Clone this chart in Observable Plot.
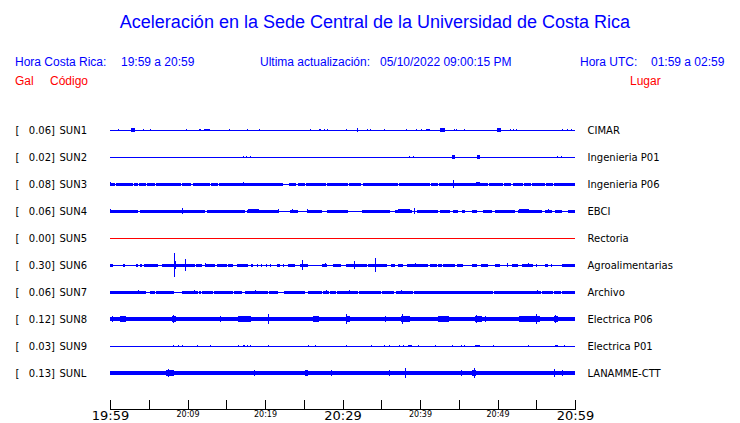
<!DOCTYPE html>
<html>
<head>
<meta charset="utf-8">
<script src="https://cdn.jsdelivr.net/npm/d3@7"></script>
<script src="https://cdn.jsdelivr.net/npm/@observablehq/plot@0.6"></script>
<style>
  body { margin: 0; background: #fff; }
  #page { position: relative; width: 740px; height: 423px; overflow: hidden; font-family: "Liberation Sans", Arial, sans-serif; }
  .h { position: absolute; white-space: pre; font-size: 12px; line-height: 12px; color: #0000ff; }
  .red { color: #ff0000; }
  #title { position: absolute; left: 5px; width: 740px; top: 13px; text-align: center; font-size: 18px; line-height: 18px; color: #0000ff; }
  #chart { position: absolute; left: 0; top: 100px; }
</style>
</head>
<body>
<div id="page">
  <div id="title">Aceleración en la Sede Central de la Universidad de Costa Rica</div>
  <div class="h" style="left:15px; top:56px">Hora Costa Rica:</div>
  <div class="h" style="left:121px; top:56px">19:59 a 20:59</div>
  <div class="h" style="left:260px; top:56px">Ultima actualización:</div>
  <div class="h" style="left:380px; top:56px">05/10/2022 09:00:15 PM</div>
  <div class="h" style="left:580px; top:56px">Hora UTC:</div>
  <div class="h" style="left:651px; top:56px">01:59 a 02:59</div>
  <div class="h red" style="left:15px; top:75px">Gal</div>
  <div class="h red" style="left:50px; top:75px">Código</div>
  <div class="h red" style="left:630px; top:75px">Lugar</div>
  <div id="chart"></div>
</div>
<script>
// ---------------- data ----------------
const codes  = ["SUN1","SUN2","SUN3","SUN4","SUN5","SUN6","SUN7","SUN8","SUN9","SUNL"];
const places = ["CIMAR","Ingenieria P01","Ingenieria P06","EBCI","Rectoria","Agroalimentarias","Archivo","Electrica P06","Electrica P01","LANAMME-CTT"];
const peakGal  = [0.06, 0.02, 0.08, 0.06, 0.00, 0.30, 0.06, 0.12, 0.03, 0.13];
// continuous background noise level (Gal) per station
const noiseGal = [0, 0, 0.0375, 0.0375, 0, 0.0375, 0.0375, 0.05, 0, 0.05];

// minutes after 19:59 where the background noise band is present
const sun3Noise = [[0,0.6],[0.75,2.95],[3.1,3.6],[3.75,4.65],[4.8,5.75],[5.9,9.2],[9.35,10.5],[10.65,12.85],[13.0,13.95],[14.1,22.35],[23.1,24.05],[24.2,25.1],[25.25,27.9],[28.05,30.7],[30.85,32.45],[32.6,37.15],[37.3,41.25],[41.4,42.3],[42.45,48.75],[48.9,50.7],[50.85,51.8],[51.95,53.3],[53.45,54.35],[54.5,56.1],[56.25,57.15],[57.3,60]];
const sun4Noise = [[0,3.66],[3.87,9.25],[9.33,12.26],[12.47,15.69],[15.78,17.42],[17.63,21.7],[23.23,24.3],[25.38,27.31],[27.96,30.77],[32.5,36.13],[36.77,38.92],[39.57,42.37],[42.58,43.87],[44.3,44.95],[45.38,45.8],[46.67,47.31],[48.17,49.25],[49.68,52.26],[52.69,55.7],[56.13,56.99],[57.42,58.28],[59.14,60]];
const sun6Noise = [[0,0.43],[1.72,1.9],[3.31,3.66],[3.87,4.17],[4.43,6.24],[6.75,11.0],[11.1,11.83],[12.39,13.55],[13.76,15.05],[15.27,15.91],[16.34,17.85],[18.15,18.49],[19.0,19.1],[19.5,19.6],[20.15,20.25],[20.7,20.8],[21.59,21.94],[22.3,22.4],[22.92,23.87],[24.52,25.59],[27.4,27.96],[28.73,29.81],[30.45,33.12],[33.33,35.7],[36.26,36.77],[37.2,37.85],[38.28,41.07],[41.29,42.15],[42.37,42.8],[43.01,44.52],[44.73,45.59],[46.67,47.31],[47.87,48.73],[49.68,50.32],[51.83,52.69],[53.12,54.62],[55.0,55.1],[56.13,56.56],[56.95,57.05],[58.28,60]];
const sun7Noise = [[0,4.7],[5.2,5.75],[5.9,8.3],[9.25,11.35],[11.5,11.8],[11.9,13.3],[13.4,15.85],[16.0,17.0],[17.45,20.4],[20.5,21.7],[22.4,25.1],[25.6,27.3],[27.45,28.2],[28.35,29.2],[29.3,32.0],[32.1,35.0],[35.1,36.7],[36.85,39.1],[39.2,47.7],[47.8,49.4],[49.55,52.2],[52.3,54.15],[54.25,55.65],[55.75,57.15],[57.3,58.25],[58.35,60]];
const sun8Noise = [[0,60]];
const sunLNoise = [[0,60]];

// bursts: [start minute, end minute, peak Gal]  (start == end for a single spike)
const sun1Events = [[1.07,1.07,0.02],[2.8,3.2,0.06],[4.26,4.26,0.035],[5.2,5.2,0.025],[9.85,9.85,0.025],[11.5,11.5,0.035],[11.7,11.7,0.03],[12.2,12.9,0.035],[15.4,15.4,0.025],[17.7,17.7,0.035],[19.3,19.3,0.025],[25.9,25.9,0.035],[27.0,27.0,0.035],[27.2,27.2,0.035],[27.7,27.7,0.035],[28.1,28.1,0.025],[30.5,30.5,0.035],[31.9,31.9,0.04],[33.2,33.2,0.035],[33.6,33.6,0.035],[35.4,35.4,0.02],[38.3,38.3,0.02],[39.6,39.6,0.035],[40.2,40.2,0.035],[40.8,41.2,0.035],[42.7,43.1,0.06],[44.4,44.4,0.035],[44.7,44.7,0.035],[45.8,45.8,0.025],[50.0,50.4,0.06],[51.7,51.7,0.035],[52.0,52.0,0.035],[52.4,52.4,0.025],[58.4,58.4,0.035],[59.05,59.05,0.025],[59.6,59.6,0.025]];
const sun2Events = [[17.2,17.2,0.025],[17.6,17.6,0.025],[18.1,18.1,0.02],[38.7,38.7,0.025],[39.1,39.1,0.025],[44.2,44.4,0.04],[47.4,47.7,0.04],[57.7,57.7,0.025],[58.3,58.3,0.025]];
const sun3Events = [[0.1,0.1,0.05],[17.2,17.2,0.05],[44.3,44.3,0.09],[47.3,47.7,0.05]];
const sun4Events = [[0.1,0.1,0.05],[9.3,9.3,0.075],[17.9,19.1,0.05],[21.7,21.7,0.05],[23.5,23.5,0.04],[25.5,25.5,0.05],[37.2,38.7,0.05],[39.3,39.3,0.075],[52.9,54.0,0.05],[56.6,56.6,0.04]];
const sun5Events = [];
const sun6Events = [[8.3,8.3,0.29],[8.45,8.45,0.1],[9.7,9.7,0.14],[12.3,12.3,0.05],[24.8,24.8,0.13],[27.8,27.8,0.05],[31.6,31.6,0.11],[34.2,34.2,0.18],[39.4,39.4,0.05],[51.3,51.3,0.06],[54.0,54.0,0.05]];
const sun7Events = [[3.65,3.65,0.05],[10.9,10.9,0.05],[18.8,18.8,0.05],[27.9,27.9,0.05],[30.9,30.9,0.05],[37.6,37.6,0.05],[55.1,55.1,0.04]];
const sun8Events = [[0.3,0.3,0.065],[0.8,0.8,0.06],[1.3,2.0,0.065],[5.8,5.8,0.06],[8.0,8.5,0.065],[8.2,8.2,0.09],[14.2,14.2,0.065],[16.6,18.1,0.07],[17.2,17.2,0.085],[20.4,20.4,0.12],[26.2,26.9,0.07],[26.5,26.5,0.08],[30.5,30.9,0.07],[30.5,30.5,0.125],[35.5,35.5,0.065],[37.6,38.7,0.08],[37.8,37.8,0.115],[42.4,43.7,0.065],[47.1,47.9,0.065],[47.3,47.3,0.11],[48.4,48.4,0.065],[52.8,55.4,0.065],[54.2,55.3,0.08],[55.0,55.0,0.115],[57.3,57.8,0.08],[57.5,57.5,0.1]];
const sun9Events = [[8.2,8.2,0.035],[8.8,8.8,0.025],[9.4,9.4,0.025],[11.3,11.3,0.025],[13.0,13.0,0.025],[16.6,16.6,0.025],[17.2,17.3,0.035],[17.7,17.7,0.03],[18.1,18.1,0.035],[20.4,20.4,0.035],[25.6,25.6,0.025],[26.5,26.5,0.02],[30.5,30.5,0.03],[33.7,33.7,0.02],[35.4,35.4,0.03],[36.0,36.0,0.02],[37.3,37.3,0.02],[37.9,37.9,0.025],[38.5,38.9,0.035],[39.8,39.8,0.03],[42.0,42.0,0.035],[44.2,44.2,0.03],[45.3,45.3,0.025],[45.8,45.8,0.025],[47.1,47.7,0.035],[49.5,49.5,0.03],[54.0,54.0,0.02],[57.5,57.7,0.035],[58.7,58.7,0.025]];
const sunLEvents = [[0.9,0.9,0.06],[7.3,8.2,0.07],[7.5,7.5,0.09],[8.1,8.1,0.085],[18.6,18.6,0.065],[25.2,25.5,0.065],[25.3,25.3,0.075],[28.6,28.6,0.065],[36.0,36.0,0.065],[38.1,38.1,0.135],[44.1,45.6,0.055],[45.4,45.4,0.075],[46.8,47.2,0.07],[47.0,47.0,0.125],[57.4,57.4,0.09],[58.4,58.4,0.075]];

// axis
const tickMinutes  = [0,5,10,15,20,25,30,35,40,45,50,55,60];
const majorMinutes = [0,30,60];
const majorLabels  = ["19:59","20:29","20:59"];
const minorMinutes = [10,20,40,50];
const minorLabels  = ["20:09","20:19","20:39","20:49"];

// ---------------- assemble ----------------
const noiseByStation  = [[],[],sun3Noise,sun4Noise,[],sun6Noise,sun7Noise,sun8Noise,[],sunLNoise];
const eventsByStation = [sun1Events,sun2Events,sun3Events,sun4Events,sun5Events,sun6Events,sun7Events,sun8Events,sun9Events,sunLEvents];

const GAL_PER_ROW = 0.675;        // trace gain: one row spacing equals this many Gal
const traceColor = code => code === "SUN5" ? "#ff0000" : "#0000ff";

const rows = codes.map((code, i) => ({i, code, place: places[i], peak: peakGal[i], color: traceColor(code)}));

const noise = [];
noiseByStation.forEach((segs, i) => segs.forEach(([a, b]) =>
  noise.push({x1: a, x2: b, y1: i - noiseGal[i] / GAL_PER_ROW, y2: i + noiseGal[i] / GAL_PER_ROW, color: traceColor(codes[i])})));

const events = [];
eventsByStation.forEach((evs, i) => evs.forEach(([a, b, g]) =>
  events.push({x1: a, x2: b, y1: i - g / GAL_PER_ROW, y2: i + g / GAL_PER_ROW, color: traceColor(codes[i])})));

const font = "DejaVu Sans";

const chart = Plot.plot({
  width: 740,
  height: 323,
  marginLeft: 110,
  marginRight: 165,
  marginTop: 0,
  marginBottom: 14,
  style: {fontFamily: font, fontSize: "10px", color: "black", background: "white", overflow: "visible"},
  x: {domain: [0, 60], axis: null},
  y: {domain: [0, 9], range: [30, 273], axis: null},
  marks: [
    Plot.ruleY(rows, {y: "i", stroke: "color", strokeWidth: 1, shapeRendering: "crispEdges"}),
    Plot.rect(noise, {x1: "x1", x2: "x2", y1: "y1", y2: "y2", fill: "color", shapeRendering: "crispEdges"}),
    Plot.rect(events, {x1: "x1", x2: "x2", y1: "y1", y2: "y2", fill: "color", insetLeft: -0.5, insetRight: -0.5, shapeRendering: "crispEdges"}),
    Plot.text(rows, {frameAnchor: "left", y: "i", text: () => "[", textAnchor: "start", dx: -95, fill: "black", fontFamily: font, fontSize: 10}),
    Plot.text(rows, {frameAnchor: "left", y: "i", text: d => d.peak.toFixed(2) + "]", textAnchor: "end", dx: -55.5, fill: "black", fontFamily: font, fontSize: 10}),
    Plot.text(rows, {frameAnchor: "left", y: "i", text: "code", textAnchor: "start", dx: -51, fill: "black", fontFamily: font, fontSize: 10}),
    Plot.text(rows, {frameAnchor: "right", y: "i", text: "place", textAnchor: "start", dx: 12, fill: "black", fontFamily: font, fontSize: 10}),
    Plot.frame({anchor: "bottom", stroke: "black", shapeRendering: "crispEdges"}),
    Plot.tickX(tickMinutes, {x: d => d, insetTop: 300, stroke: "black", shapeRendering: "crispEdges"}),
    Plot.text(majorMinutes, {x: d => d, text: (d, i) => majorLabels[i], frameAnchor: "bottom", lineAnchor: "top", dy: 1, fill: "black", fontFamily: font, fontSize: 13}),
    Plot.text(minorMinutes, {x: d => d, text: (d, i) => minorLabels[i], frameAnchor: "bottom", lineAnchor: "top", dy: 2, fill: "black", fontFamily: font, fontSize: 8})
  ]
});
document.getElementById("chart").appendChild(chart);
</script>
</body>
</html>
